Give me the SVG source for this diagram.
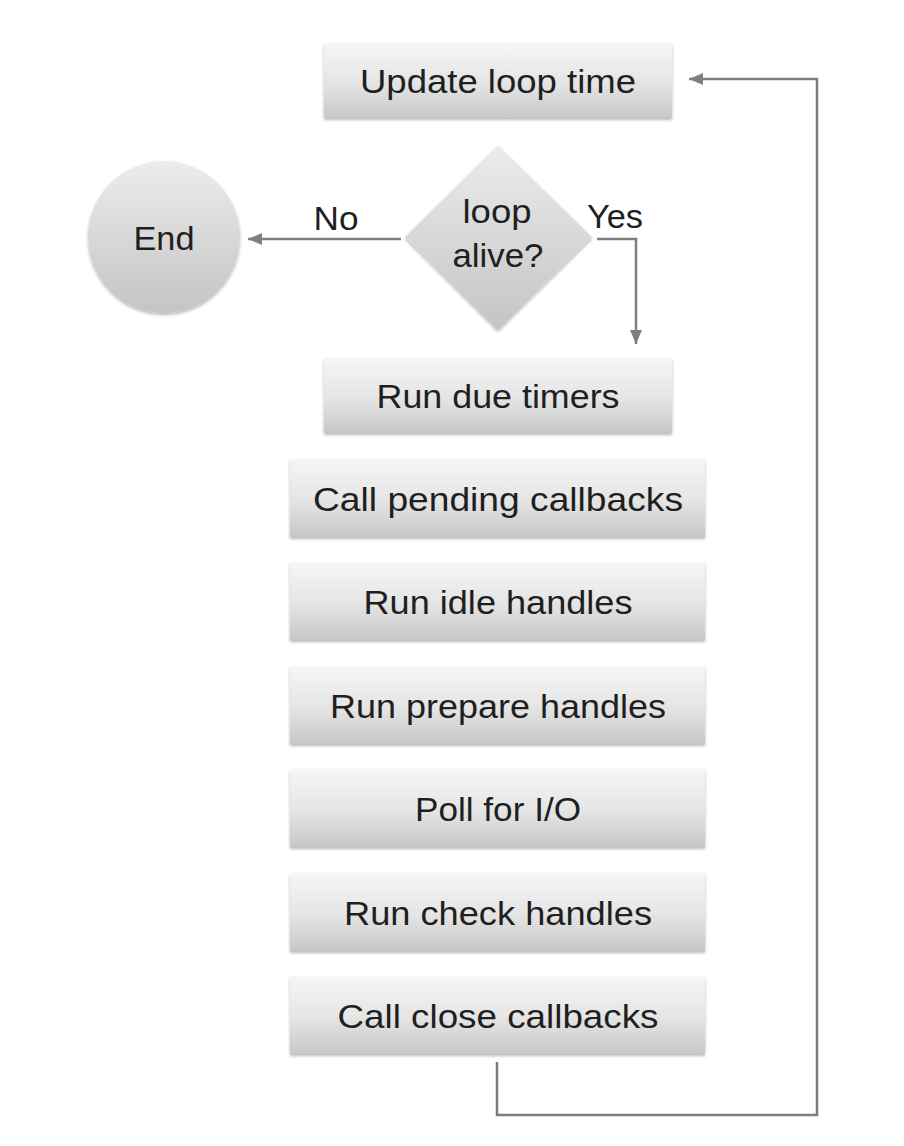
<svg xmlns="http://www.w3.org/2000/svg" width="904" height="1146" viewBox="0 0 904 1146">
<defs>
<linearGradient id="g" x1="0" y1="0" x2="0" y2="1">
<stop offset="0" stop-color="#f6f6f6"/>
<stop offset="0.55" stop-color="#e4e4e4"/>
<stop offset="1" stop-color="#c7c7c8"/>
</linearGradient>
<linearGradient id="gd" x1="0" y1="0" x2="0" y2="1">
<stop offset="0" stop-color="#ececec"/>
<stop offset="1" stop-color="#c4c4c5"/>
</linearGradient>
<filter id="sh" x="-10%" y="-10%" width="120%" height="130%">
<feDropShadow dx="0" dy="2" stdDeviation="1.8" flood-color="#000" flood-opacity="0.28"/>
</filter>
<marker id="ah" viewBox="0 0 14 12" refX="14" refY="6" markerWidth="14" markerHeight="12" markerUnits="userSpaceOnUse" orient="auto">
<path d="M0,0 L14,6 L0,12 Z" fill="#7b7e83"/>
</marker>
</defs>
<style>
.box{fill:url(#g);filter:url(#sh);}
.t{font-family:"Liberation Sans",Arial,sans-serif;font-size:34px;fill:#1f1f1f;text-anchor:middle;}
.c{fill:none;stroke:#7b7e83;stroke-width:2.5;}
</style>
<rect width="904" height="1146" fill="#ffffff"/>
<g id="connectors">
<path class="c" d="M401,239 H248" marker-end="url(#ah)"/>
<path class="c" d="M597,239 H636 V344" marker-end="url(#ah)"/>
<path class="c" d="M497,1062 V1115 H817 V79 H689" marker-end="url(#ah)"/>
</g>
<g id="update">
<rect class="box" x="324" y="43" width="348" height="75"/>
<text class="t" x="498" y="93" textLength="276" lengthAdjust="spacingAndGlyphs">Update loop time</text>
</g>
<g id="end">
<circle cx="164" cy="237" r="76" fill="url(#gd)" filter="url(#sh)"/>
<text class="t" x="164" y="250" textLength="61" lengthAdjust="spacingAndGlyphs">End</text>
</g>
<g id="decision">
<polygon points="498,145 592,237 498,330 405,237" fill="url(#gd)" filter="url(#sh)"/>
<text class="t" x="497" y="223" textLength="69" lengthAdjust="spacingAndGlyphs">loop</text>
<text class="t" x="498" y="267" textLength="91" lengthAdjust="spacingAndGlyphs">alive?</text>
</g>
<g id="labels">
<text class="t" x="336" y="230" textLength="45" lengthAdjust="spacingAndGlyphs">No</text>
<text class="t" x="615" y="228" textLength="56" lengthAdjust="spacingAndGlyphs">Yes</text>
</g>
<g id="timers">
<rect class="box" x="324" y="358" width="348" height="75"/>
<text class="t" x="498" y="408" textLength="243" lengthAdjust="spacingAndGlyphs">Run due timers</text>
</g>
<g id="pending">
<rect class="box" x="290" y="459" width="415" height="78"/>
<text class="t" x="498" y="511" textLength="370" lengthAdjust="spacingAndGlyphs">Call pending callbacks</text>
</g>
<g id="idle">
<rect class="box" x="290" y="562" width="415" height="78"/>
<text class="t" x="498" y="614" textLength="269" lengthAdjust="spacingAndGlyphs">Run idle handles</text>
</g>
<g id="prepare">
<rect class="box" x="290" y="666" width="415" height="78"/>
<text class="t" x="498" y="718" textLength="336" lengthAdjust="spacingAndGlyphs">Run prepare handles</text>
</g>
<g id="poll">
<rect class="box" x="290" y="769" width="415" height="78"/>
<text class="t" x="498" y="821" textLength="166" lengthAdjust="spacingAndGlyphs">Poll for I/O</text>
</g>
<g id="check">
<rect class="box" x="290" y="873" width="415" height="78"/>
<text class="t" x="498" y="925" textLength="308" lengthAdjust="spacingAndGlyphs">Run check handles</text>
</g>
<g id="close">
<rect class="box" x="290" y="976" width="415" height="78"/>
<text class="t" x="498" y="1028" textLength="321" lengthAdjust="spacingAndGlyphs">Call close callbacks</text>
</g>
</svg>
